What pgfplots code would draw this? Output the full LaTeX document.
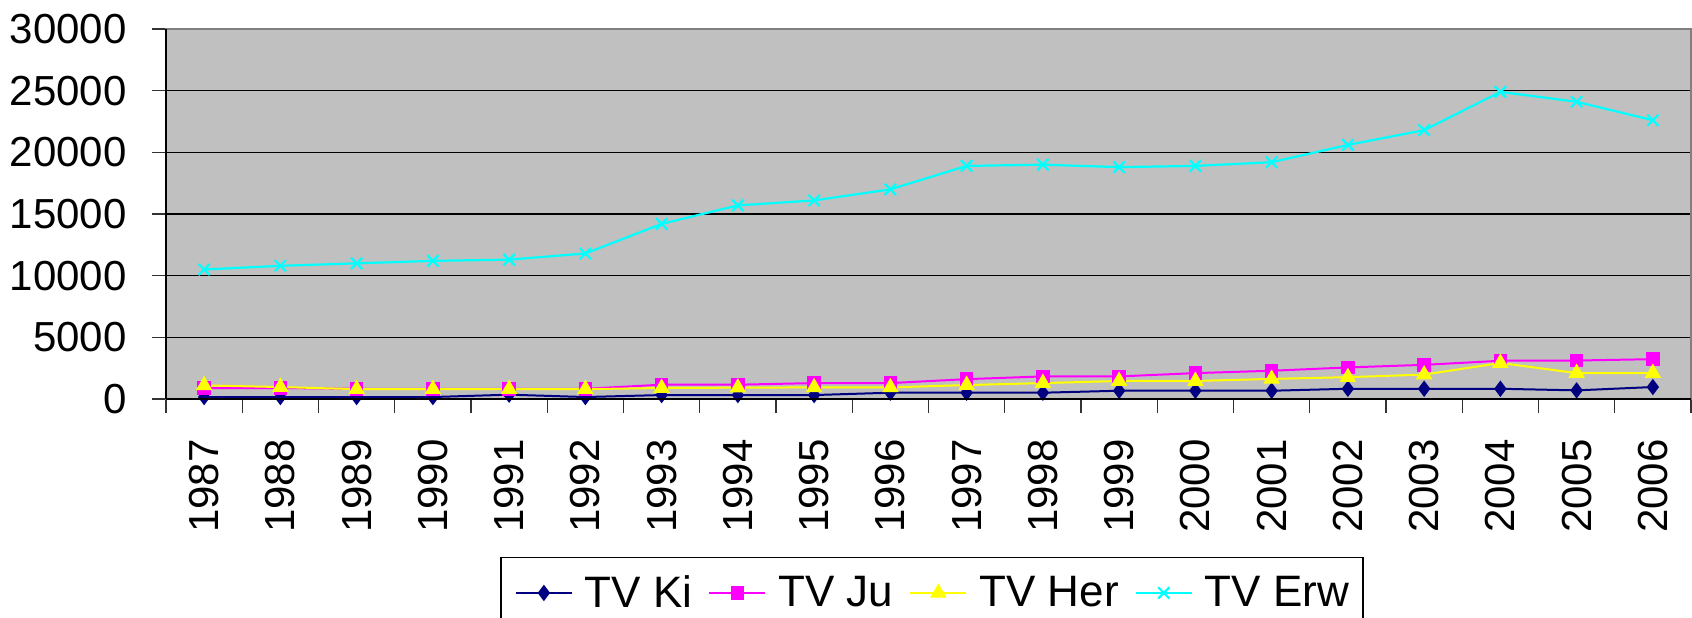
\documentclass[border=0pt]{standalone}
\usepackage{fontspec}
\setmainfont{Liberation Sans}
\usepackage{pgfplots}
\usepackage{pgfplotstable}
\pgfplotsset{compat=1.18}
\definecolor{plotbg}{RGB}{192,192,192}
\definecolor{kicol}{RGB}{0,0,128}
\definecolor{jucol}{RGB}{255,0,255}
\definecolor{hercol}{RGB}{255,255,0}
\definecolor{erwcol}{RGB}{0,255,255}

\pgfplotstableread{
idx year Ki Ju Her Erw
0 1987 160 890 1100 10500
1 1988 160 890 970 10800
2 1989 160 830 800 11000
3 1990 160 830 800 11200
4 1991 350 830 800 11300
5 1992 160 830 800 11800
6 1993 320 1160 890 14200
7 1994 320 1160 920 15700
8 1995 320 1290 940 16100
9 1996 510 1290 940 17000
10 1997 510 1610 1130 18900
11 1998 510 1830 1290 19000
12 1999 670 1830 1460 18800
13 2000 670 2100 1460 18900
14 2001 670 2290 1630 19200
15 2002 830 2560 1770 20600
16 2003 830 2770 1980 21800
17 2004 830 3100 2920 24900
18 2005 700 3120 2100 24100
19 2006 970 3230 2100 22600
}\datatable

\begin{document}
\begin{tikzpicture}
\useasboundingbox (-83bp,-109.5bp) rectangle (763bp,199.5bp);
\clip (-83bp,-109.5bp) rectangle (763bp,199.5bp);
\begin{axis}[
  at={(0,0)}, anchor=south west,
  scale only axis, width=762.5bp, height=185bp,
  xmin=-0.5, xmax=19.5, ymin=0, ymax=30000,
  xtick={-0.5,0.5,1.5,2.5,3.5,4.5,5.5,6.5,7.5,8.5,9.5,10.5,11.5,12.5,13.5,14.5,15.5,16.5,17.5,18.5,19.5},
  xticklabels={1987,1988,1989,1990,1991,1992,1993,1994,1995,1996,1997,1998,1999,2000,2001,2002,2003,2004,2005,2006},
  x tick label as interval,
  ytick={0,5000,10000,15000,20000,25000,30000},
  scaled y ticks=false,
  tick pos=left,
  tick align=outside,
  major tick length=7bp,
  tick style={black!80, line width=0.7bp},
  ymajorgrids,
  grid style={black, line width=0.6bp},
  axis background/.style={fill=plotbg},
  axis line style={draw=gray, line width=0.8bp},
  ticklabel style={font=\fontsize{21bp}{25bp}\selectfont},
  xticklabel style={rotate=90, anchor=east, inner ysep=0pt, inner xsep=13bp},
  yticklabel style={anchor=east, inner sep=0pt, xshift=-12.5bp},
  /pgf/number format/1000 sep={},
  /pgf/number format/assume math mode=true,
  legend columns=4,
  legend style={at={(0.5023,-0.4262)}, anchor=north, draw=black, line width=0.8bp,
    font=\fontsize{22bp}{26bp}\selectfont,
    inner xsep=7bp, inner ysep=9bp,
    nodes={inner sep=0pt},
    /tikz/every odd column/.append style={column sep=6bp},
    /tikz/every even column/.append style={column sep=8bp}},
  legend image code/.code={\draw[mark repeat=2,mark phase=2] plot coordinates {(0bp,0bp) (14bp,0bp) (28bp,0bp)};},
  after end axis/.code={\draw[black, line width=0.8bp] (rel axis cs:0,0) -- (rel axis cs:0,1);
                        \draw[black, line width=0.8bp] (rel axis cs:0,0) -- (rel axis cs:1,0);},
]
\addplot[color=kicol, line width=1bp, mark=diamond*, mark size=3.3bp, mark options={fill=kicol, draw=kicol}] table[x=idx, y=Ki] {\datatable};
\addlegendentry{TV Ki}
\addplot[color=jucol, line width=1bp, mark=square*, mark size=2.9bp, mark options={fill=jucol, draw=jucol}] table[x=idx, y=Ju] {\datatable};
\addlegendentry{TV Ju}
\addplot[color=hercol, line width=1bp, mark=triangle*, mark size=3.8bp, mark options={fill=hercol, draw=hercol}] table[x=idx, y=Her] {\datatable};
\addlegendentry{TV Her}
\addplot[color=erwcol, line width=1.1bp, mark=x, mark size=4bp, mark options={draw=erwcol}] table[x=idx, y=Erw] {\datatable};
\addlegendentry{TV Erw}
\end{axis}
\end{tikzpicture}
\end{document}
